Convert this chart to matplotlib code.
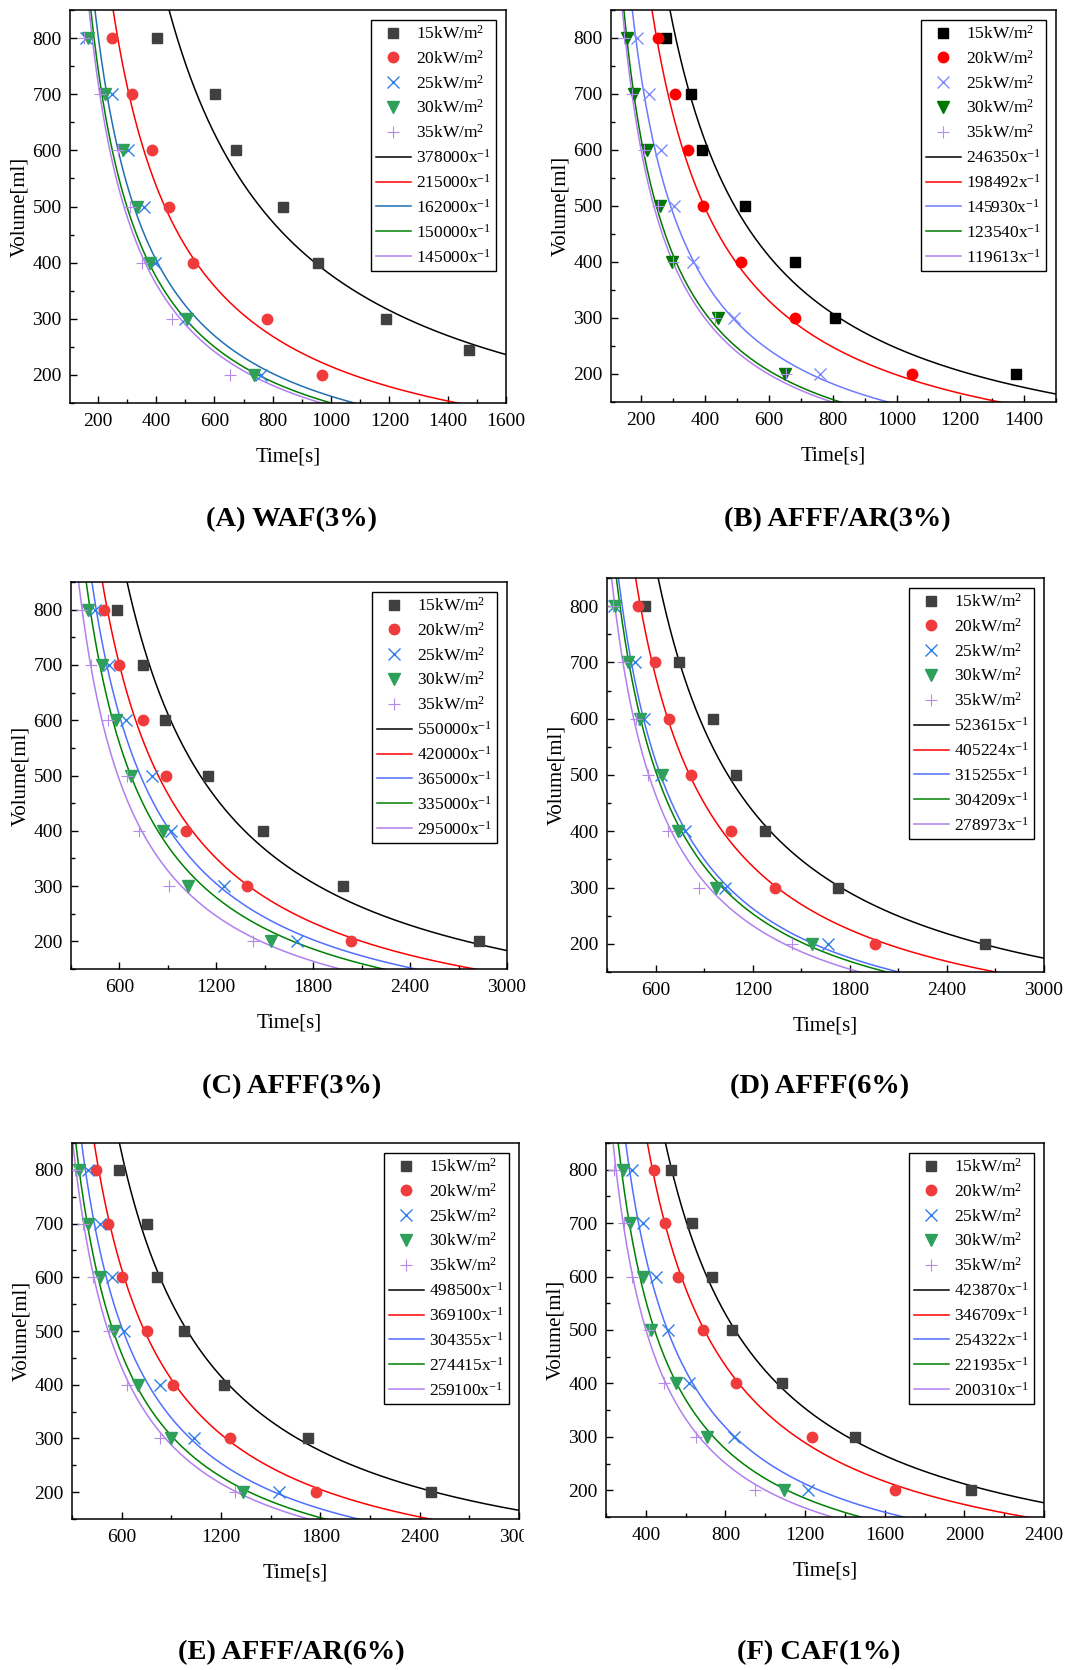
import numpy as np
import matplotlib
matplotlib.use('Agg')
import matplotlib.pyplot as plt
from matplotlib.ticker import MultipleLocator
from matplotlib.patches import Rectangle

plt.rcParams['font.family'] = ['Liberation Serif', 'DejaVu Serif']
plt.rcParams['mathtext.fontset'] = 'custom'
plt.rcParams['mathtext.rm'] = 'Liberation Serif'
plt.rcParams['mathtext.it'] = 'Liberation Serif:italic'
plt.rcParams['mathtext.bf'] = 'Liberation Serif:bold'

# ---------------- data ----------------
volumes = [800, 700, 600, 500, 400, 300, 200]
volumes_waf15 = [800, 700, 600, 500, 400, 300, 245]
flux_labels = ['15kW/m$^2$', '20kW/m$^2$', '25kW/m$^2$', '30kW/m$^2$', '35kW/m$^2$']

# (A) WAF(3%)
waf_t15 = [403, 602, 675, 834, 955, 1189, 1472]
waf_t20 = [248, 317, 386, 443, 526, 779, 969]
waf_t25 = [160, 249, 305, 359, 397, 500, 761]
waf_t30 = [166, 226, 286, 336, 378, 507, 736]
waf_t35 = [153, 209, 268, 310, 353, 456, 655]
waf_k = [378000, 215000, 162000, 150000, 145000]

# (B) AFFF/AR(3%)
afffar3_t15 = [276, 355, 390, 524, 683, 807, 1375]
afffar3_t20 = [251, 306, 346, 393, 512, 682, 1050]
afffar3_t25 = [187, 224, 261, 301, 362, 492, 761]
afffar3_t30 = [155, 177, 217, 258, 296, 439, 651]
afffar3_t35 = [147, 170, 207, 252, 298, 430, 654]
afffar3_k = [246350, 198492, 145930, 123540, 119613]

# (C) AFFF(3%)
afff3_t15 = [584, 748, 882, 1150, 1492, 1982, 2827]
afff3_t20 = [503, 600, 744, 886, 1010, 1391, 2036]
afff3_t25 = [448, 534, 641, 804, 917, 1245, 1698]
afff3_t30 = [404, 495, 577, 674, 872, 1022, 1539]
afff3_t35 = [369, 421, 528, 647, 722, 909, 1430]
afff3_k = [550000, 420000, 365000, 335000, 295000]

# (D) AFFF(6%)
afff6_t15 = [536, 746, 952, 1096, 1277, 1728, 2634]
afff6_t20 = [491, 594, 686, 818, 1069, 1341, 1958]
afff6_t25 = [343, 470, 530, 635, 779, 1026, 1666]
afff6_t30 = [349, 429, 505, 641, 736, 975, 1569]
afff6_t35 = [337, 399, 481, 555, 674, 868, 1444]
afff6_k = [523615, 405224, 315255, 304209, 278973]

# (E) AFFF/AR(6%)
afffar6_t15 = [584, 752, 812, 974, 1219, 1727, 2471]
afffar6_t20 = [444, 519, 604, 756, 909, 1257, 1775]
afffar6_t25 = [394, 467, 539, 616, 831, 1039, 1551]
afffar6_t30 = [345, 396, 471, 553, 697, 897, 1334]
afffar6_t35 = [317, 365, 426, 523, 634, 831, 1284]
afffar6_k = [498500, 369100, 304355, 274415, 259100]

# (F) CAF(1%)
caf_t15 = [527, 630, 730, 834, 1082, 1453, 2034]
caf_t20 = [442, 497, 564, 687, 854, 1235, 1654]
caf_t25 = [330, 385, 450, 512, 615, 843, 1215]
caf_t30 = [283, 321, 385, 428, 553, 707, 1092]
caf_t35 = [242, 288, 333, 417, 491, 651, 948]
caf_k = [423870, 346709, 254322, 221935, 200310]

titles = ['(A) WAF(3%)', '(B) AFFF/AR(3%)', '(C) AFFF(3%)',
          '(D) AFFF(6%)', '(E) AFFF/AR(6%)', '(F) CAF(1%)']

# ---------------- styling ----------------
W, H = 1086, 1670
fig = plt.figure(figsize=(W / 100, H / 100), dpi=100)

std_mk = ['#404040', '#ef3b3b', '#2f7fe8', '#2ea05a', '#b58ae8']
b_mk = ['#000000', '#ff0000', '#7f8cff', '#007800', '#b88cff']
std_ln = ['#000000', '#ff0000', '#4f6fff', '#008000', '#b07ff0']
a_ln = ['#000000', '#ff0000', '#1f6fb4', '#008000', '#b07ff0']
b_ln = ['#000000', '#ff0000', '#6b7bff', '#007800', '#b07ff0']

markers = ['s', 'o', 'x', 'v', '+']
msizes = [6.5, 7.5, 8, 8, 8]
mews = [1, 1, 1.0, 1, 0.8]

panels = [
    dict(px=(70, 506, 10, 403), xlim=(105, 1600), xmaj=200, xmin=100,
         t=[waf_t15, waf_t20, waf_t25, waf_t30, waf_t35], k=waf_k,
         v15=volumes_waf15, mk=std_mk, ln=a_ln, title_xy=(292, 520)),
    dict(px=(611, 1056, 10, 402), xlim=(105, 1500), xmaj=200, xmin=100,
         t=[afffar3_t15, afffar3_t20, afffar3_t25, afffar3_t30, afffar3_t35], k=afffar3_k,
         v15=volumes, mk=b_mk, ln=b_ln, title_xy=(837, 520)),
    dict(px=(71, 507, 582, 969), xlim=(300, 3000), xmaj=600, xmin=300,
         t=[afff3_t15, afff3_t20, afff3_t25, afff3_t30, afff3_t35], k=afff3_k,
         v15=volumes, mk=std_mk, ln=std_ln, title_xy=(292, 1087)),
    dict(px=(607, 1044, 578, 972), xlim=(300, 3000), xmaj=600, xmin=300,
         t=[afff6_t15, afff6_t20, afff6_t25, afff6_t30, afff6_t35], k=afff6_k,
         v15=volumes, mk=std_mk, ln=std_ln, title_xy=(820, 1087)),
    dict(px=(72, 519, 1143, 1519), xlim=(300, 3000), xmaj=600, xmin=300,
         t=[afffar6_t15, afffar6_t20, afffar6_t25, afffar6_t30, afffar6_t35], k=afffar6_k,
         v15=volumes, mk=std_mk, ln=std_ln, title_xy=(291, 1653)),
    dict(px=(606, 1044, 1143, 1517), xlim=(200, 2400), xmaj=400, xmin=200,
         t=[caf_t15, caf_t20, caf_t25, caf_t30, caf_t35], k=caf_k,
         v15=volumes, mk=std_mk, ln=std_ln, title_xy=(819, 1653)),
]

for p, title in zip(panels, titles):
    l, r, t, b = p['px']
    ax = fig.add_axes([l / W, 1 - b / H, (r - l) / W, (b - t) / H])
    handles = []
    for i in range(5):
        vv = p['v15'] if i == 0 else volumes
        h, = ax.plot(p['t'][i], vv, linestyle='none', marker=markers[i],
                     ms=msizes[i], mew=mews[i], color=p['mk'][i],
                     label=flux_labels[i], zorder=3)
        handles.append(h)
    xs = np.linspace(p['xlim'][0], p['xlim'][1], 600)
    for i in range(5):
        h, = ax.plot(xs, p['k'][i] / xs, color=p['ln'][i], lw=1.1,
                     label='%d' % p['k'][i] + 'x$^{\\mathregular{-1}}$', zorder=2)
        handles.append(h)
    ax.set_xlim(*p['xlim'])
    ax.set_ylim(150, 850)
    ax.xaxis.set_major_locator(MultipleLocator(p['xmaj']))
    ax.xaxis.set_minor_locator(MultipleLocator(p['xmin']))
    ax.set_yticks([200, 300, 400, 500, 600, 700, 800])
    ax.yaxis.set_minor_locator(MultipleLocator(50))
    ax.tick_params(which='both', direction='in', top=False, right=False,
                   width=1, labelsize=14)
    ax.tick_params(which='major', length=5)
    ax.tick_params(which='minor', length=3)
    ax.tick_params(axis='x', which='both', pad=7)
    ax.tick_params(axis='y', which='both', pad=6)
    for s in ax.spines.values():
        s.set_linewidth(1.1)
    ax.set_xlabel('Time[s]', fontsize=15, labelpad=13)
    ax.set_ylabel('Volume[ml]', fontsize=15, labelpad=2)
    leg = ax.legend(handles=handles, loc='upper right', fontsize=12.5,
                    frameon=True, fancybox=False, edgecolor='black',
                    framealpha=1, borderaxespad=0.55, handlelength=2.0,
                    handletextpad=0.3, labelspacing=0.4, borderpad=0.3)
    leg.get_frame().set_linewidth(1.0)
    fig.text(p['title_xy'][0] / W, 1 - p['title_xy'][1] / H, title,
             ha='center', va='center', fontsize=20.5, fontweight='bold')

# sub-figure crop edge in panel E (last tick label is cut in the original)
fig.patches.append(Rectangle((524 / W, 1 - 1545 / H), 18 / W, 24 / H,
                             transform=fig.transFigure, facecolor='white',
                             edgecolor='none', zorder=10))

fig.savefig('out.png', dpi=100)
